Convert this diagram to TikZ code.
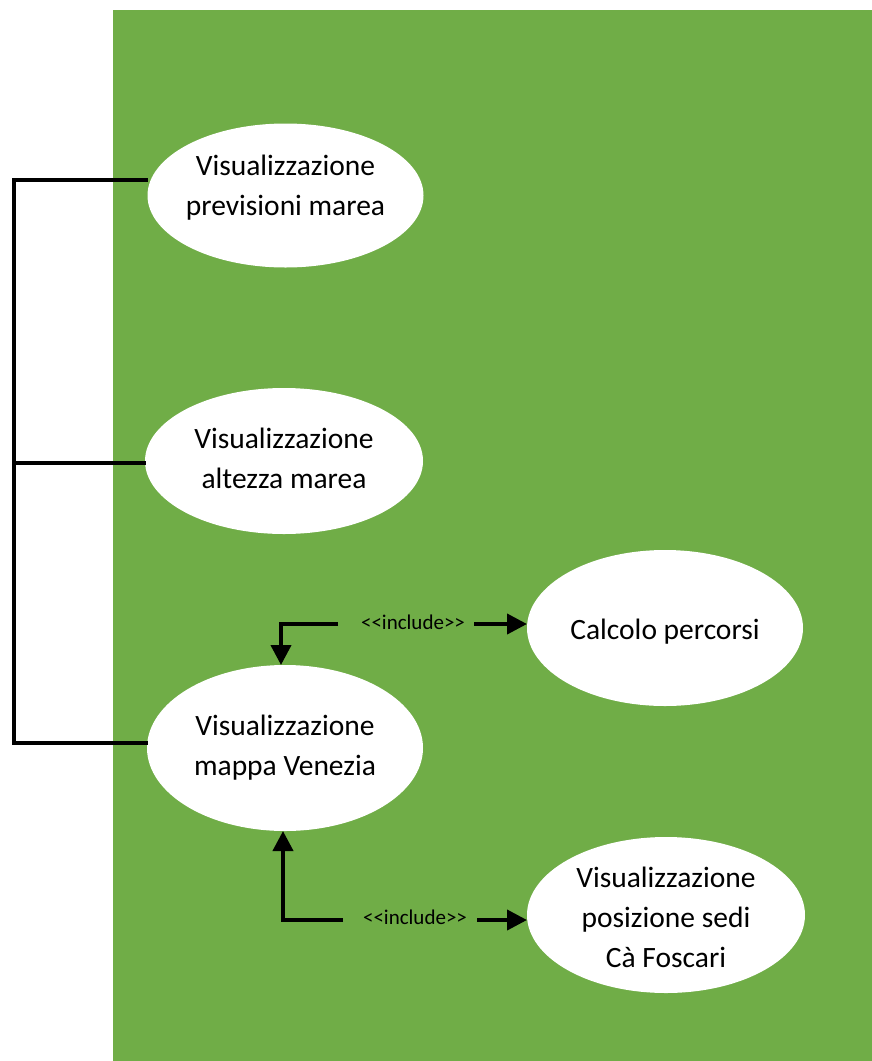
\documentclass[tikz,border=0pt]{standalone}
\usepackage{fontspec}
\setmainfont{Carlito}
\usetikzlibrary{arrows.meta}
\definecolor{bggreen}{HTML}{70AD47}
\newcommand{\inclabel}{<\kern0pt<include>\kern0pt>}
\begin{document}
\begin{tikzpicture}[x=1pt,y=-1pt,
  uctext/.style={align=center, font=\fontsize{29.5}{40}\selectfont},
  conn/.style={line width=3.5pt, black},
  incl/.style={line width=4pt, black, -{Triangle[length=20pt,width=20pt]}},
  lbl/.style={font=\fontsize{21}{25}\selectfont, inner sep=0pt}]
\useasboundingbox (0,0) rectangle (872,1061);
\fill[bggreen] (113,10) rectangle (872,1061);
\fill[white] (285.5,195.5) ellipse [x radius=138, y radius=72];
\node[uctext] (uc1) at (285.5,188) {Visualizzazione\\previsioni marea};
\coordinate (uc1w) at (147.5,180);
\fill[white] (284,461) ellipse [x radius=139, y radius=73];
\node[uctext] (uc2) at (284,458) {Visualizzazione\\altezza marea};
\coordinate (uc2w) at (145.5,463);
\fill[white] (665,628) ellipse [x radius=138, y radius=78];
\node[uctext] (uc3) at (665,632) {Calcolo percorsi};
\coordinate (uc3w) at (527,624);
\fill[white] (285,748) ellipse [x radius=138, y radius=83];
\node[uctext] (uc4) at (285,748) {Visualizzazione\\mappa Venezia};
\coordinate (uc4w) at (147.5,743);
\coordinate (uc4n) at (281,665);
\coordinate (uc4s) at (283,831);
\fill[white] (666,915) ellipse [x radius=139, y radius=78];
\node[uctext] (uc5) at (666,917) {Visualizzazione\\posizione sedi\\Cà Foscari};
\coordinate (uc5w) at (527,920);
% left bracket
\coordinate (b1) at (14,180);
\coordinate (b2) at (14,463);
\coordinate (b3) at (14,743);
\draw[conn] (uc1w) -- (b1) -- (b3) -- (uc4w);
\draw[conn] (b2) -- (uc2w);
% include 1
\node[lbl] (l1) at (413,622) {\inclabel};
\coordinate (a1s) at (338,624);
\coordinate (a1c) at (281,624);
\draw[incl] (a1s) -- (a1c) -- (uc4n);
\coordinate (a1r) at (474,624);
\draw[incl] (a1r) -- (uc3w);
% include 2
\node[lbl] (l2) at (415,917) {\inclabel};
\coordinate (a2s) at (343,920);
\coordinate (a2c) at (283,920);
\draw[incl] (a2s) -- (a2c) -- (uc4s);
\coordinate (a2r) at (477,920);
\draw[incl] (a2r) -- (uc5w);
\end{tikzpicture}
\end{document}
